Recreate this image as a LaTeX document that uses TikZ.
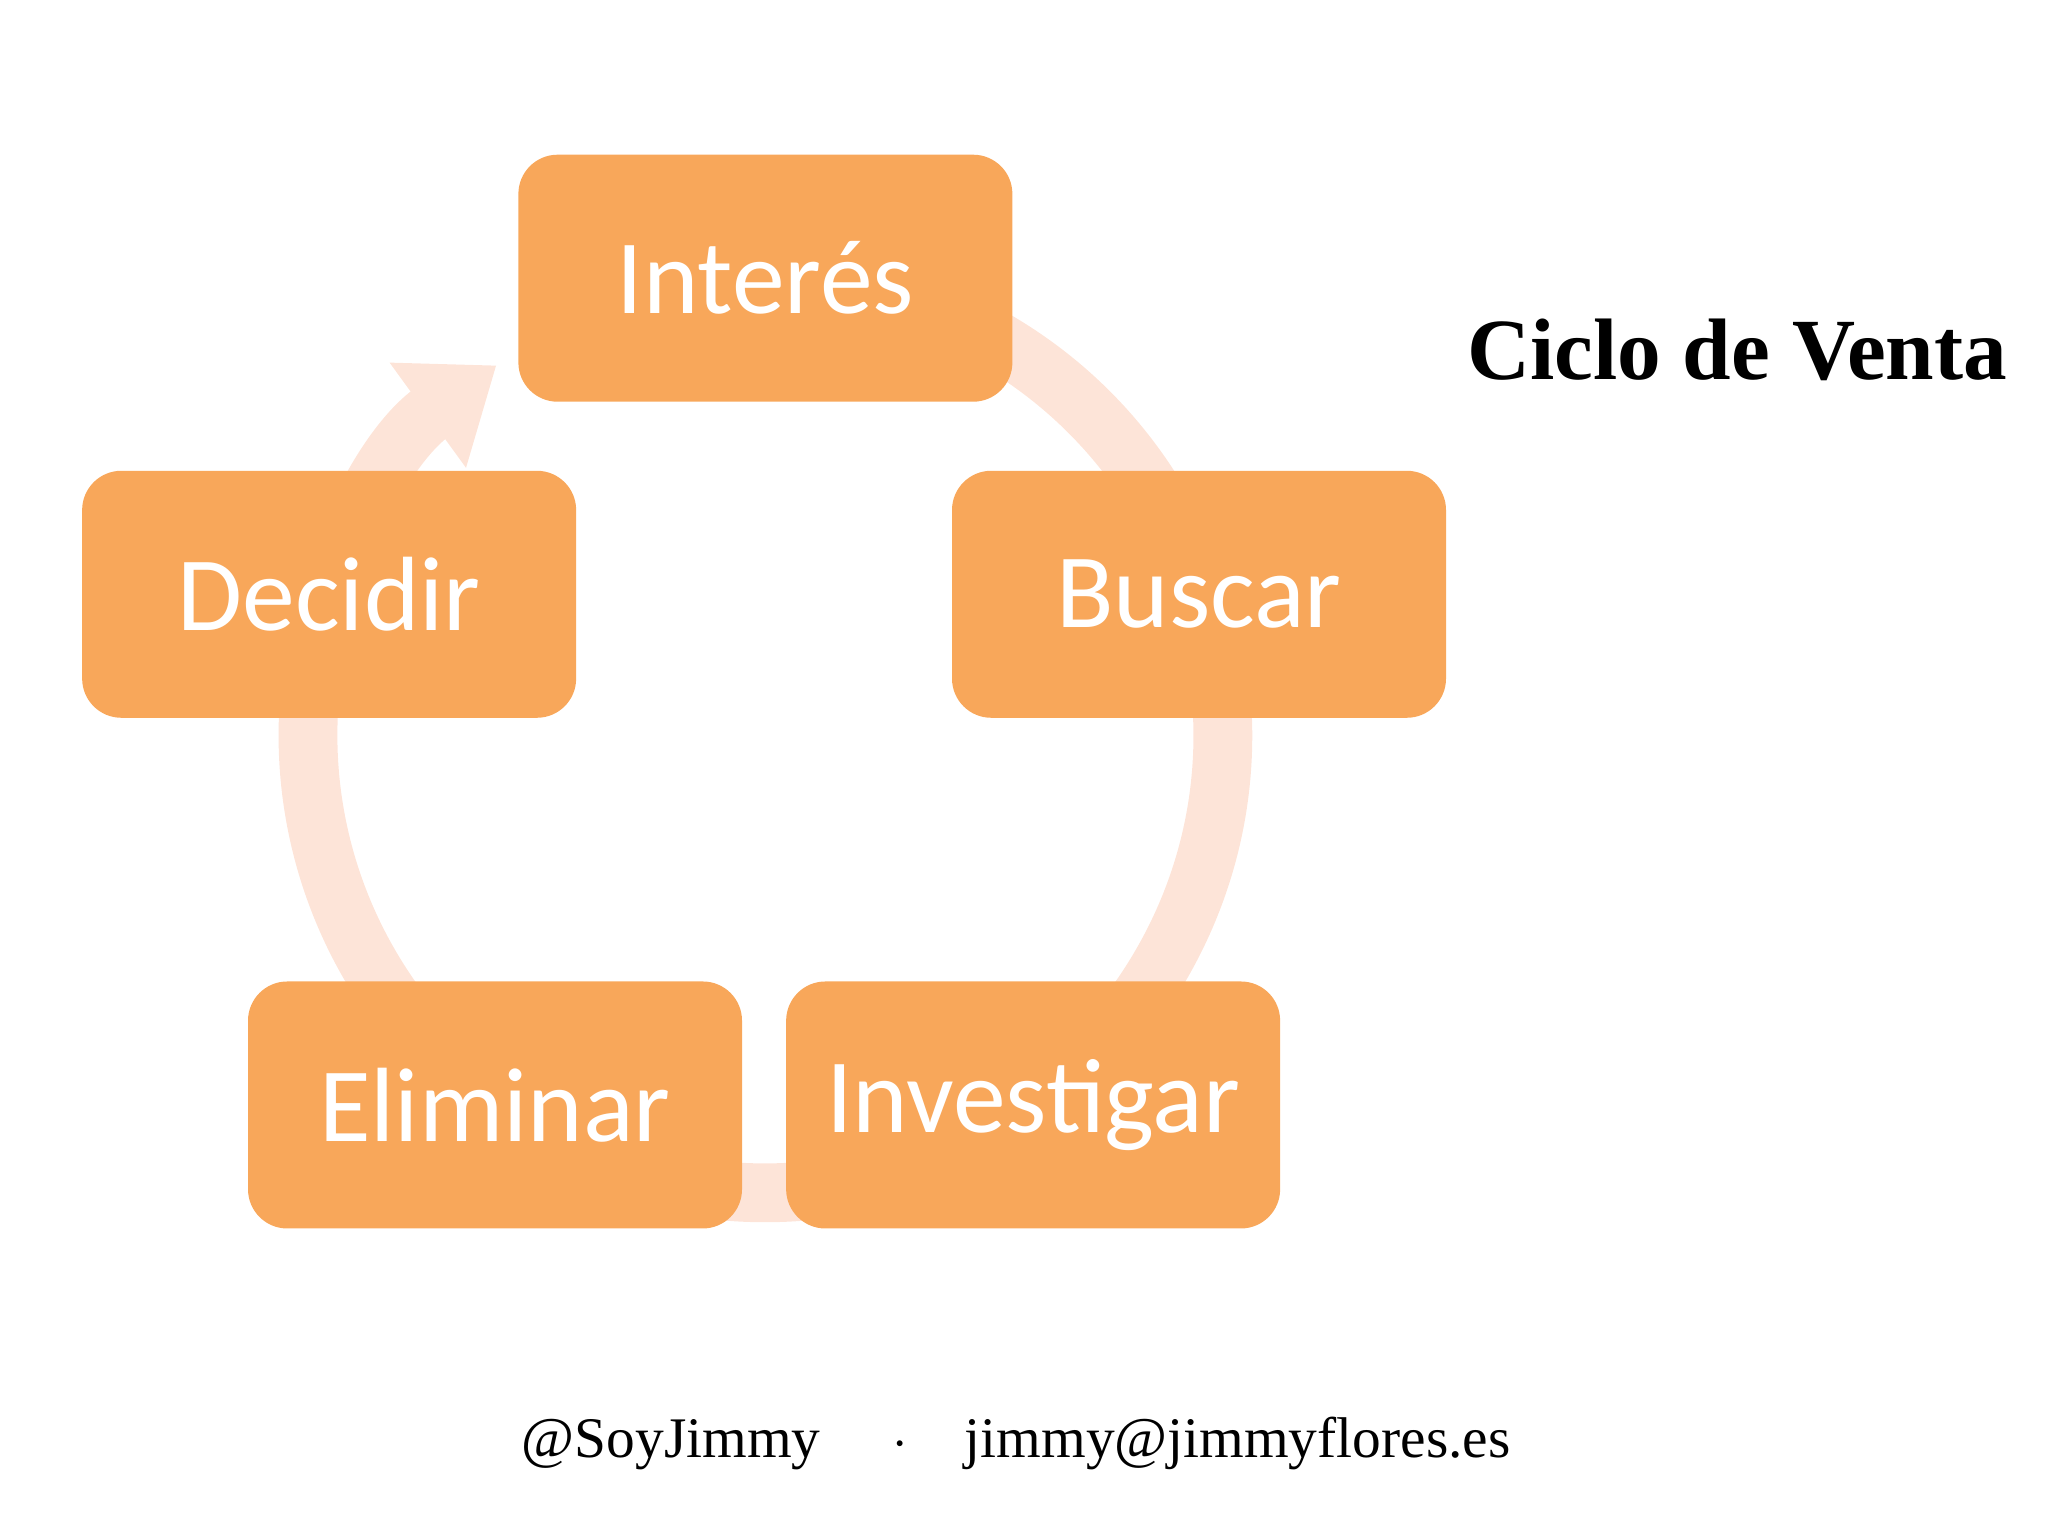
\documentclass[tikz,border=0pt]{standalone}
\usepackage{fontspec}
\setmainfont{Liberation Serif}
\newfontfamily\boxfont{Carlito}
\usetikzlibrary{arrows.meta}
\definecolor{boxor}{RGB}{248,167,90}
\definecolor{ringc}{RGB}{253,228,216}
\tikzset{stagebox/.style={fill=boxor,rounded corners=0.3cm,minimum width=3.78cm,minimum height=1.89cm,text=white,font=\boxfont\fontsize{23}{26}\selectfont,inner sep=0pt}}
\begin{document}
\begin{tikzpicture}[x=0.01cm,y=-0.01cm]
\useasboundingbox (0,0) rectangle (1568,1176);
\coordinate (c) at (586,563);
\draw[ringc,line width=0.45cm,-{Triangle[width=0.95cm,length=0.65cm]}] ([shift={(60:3.5cm)}]c) arc[start angle=60,end angle=-234,radius=3.5cm];
\node[stagebox] (int) at (586,213) {Interés};
\node[stagebox] (bus) at (918,455) {Buscar};
\node[stagebox] (inv) at (791,846) {Investigar};
\node[stagebox] (eli) at (379,846) {Eliminar};
\node[stagebox] (dec) at (252,455) {Decidir};
\node[font=\bfseries\fontsize{19}{22}\selectfont,inner sep=0pt] (title) at (1330,268) {Ciclo de Venta};
\node[font=\fontsize{12.5}{15}\selectfont,inner sep=0pt] (foot) at (778,1105) {@SoyJimmy \quad$\cdot$\quad jimmy@jimmyflores.es};
\end{tikzpicture}
\end{document}
